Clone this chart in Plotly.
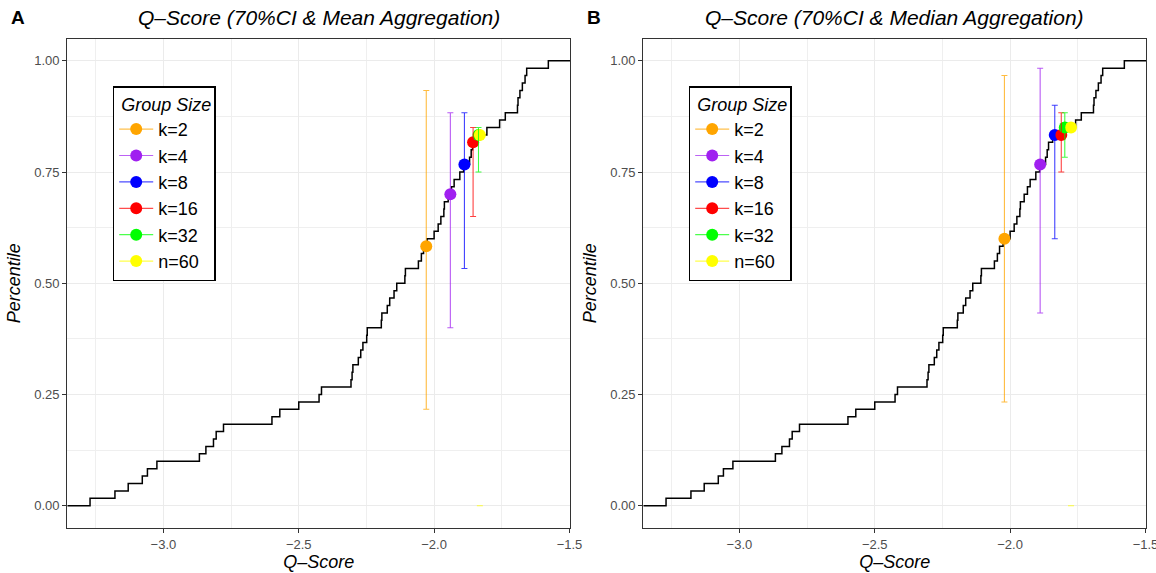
import plotly.graph_objects as go

# ---------------- data ----------------
q_scores = [-3.271, -3.179, -3.130, -3.078, -3.059, -3.024, -2.867, -2.843, -2.815, -2.805,
            -2.778, -2.599, -2.570, -2.500, -2.425, -2.416, -2.307, -2.303, -2.300, -2.280,
            -2.271, -2.263, -2.249, -2.247, -2.195, -2.193, -2.173, -2.164, -2.148, -2.138,
            -2.108, -2.106, -2.058, -2.047, -2.039, -2.026, -2.000, -1.985, -1.975, -1.964,
            -1.962, -1.948, -1.936, -1.926, -1.905, -1.891, -1.869, -1.863, -1.858, -1.843,
            -1.805, -1.758, -1.737, -1.692, -1.690, -1.683, -1.674, -1.664, -1.658, -1.578]

groups = ["k=2", "k=4", "k=8", "k=16", "k=32", "n=60"]
colors = ["#FFA500", "#A020F0", "#0000FF", "#FF0000", "#00FF00", "#FFFF00"]

mean_x = [-2.029, -1.940, -1.888, -1.856, -1.836, -1.831]
mean_y = [0.5833, 0.7000, 0.7667, 0.8167, 0.8333, 0.8333]
mean_lo = [0.2167, 0.4000, 0.5333, 0.6500, 0.7500, 0.0]
mean_hi = [0.9333, 0.8833, 0.8833, 0.8500, 0.8500, 0.0]

med_x = [-2.021, -1.889, -1.835, -1.811, -1.798, -1.775]
med_y = [0.6000, 0.7667, 0.8333, 0.8333, 0.8500, 0.8500]
med_lo = [0.2333, 0.4333, 0.6000, 0.7500, 0.7833, 0.0]
med_hi = [0.9667, 0.9833, 0.9000, 0.8833, 0.8833, 0.0]

x_ticks = [-3.0, -2.5, -2.0, -1.5]
y_ticks = [0.0, 0.25, 0.50, 0.75, 1.00]
X_RANGE = [-3.355, -1.498]
Y_RANGE = [-0.05, 1.05]

titles = ["Q–Score (70%CI & Mean Aggregation)", "Q–Score (70%CI & Median Aggregation)"]
tags = ["A", "B"]

# ---------------- helpers ----------------
W, H = 1156, 573
FONT = "Liberation Sans, Arial, sans-serif"


def rgba(hexc, a):
    h = hexc.lstrip("#")
    r, g, b = int(h[0:2], 16), int(h[2:4], 16), int(h[4:6], 16)
    return f"rgba({r},{g},{b},{a})"


n = len(q_scores)
ecdf_x = [X_RANGE[0]] + sorted(q_scores) + [X_RANGE[1]]
ecdf_y = [0.0] + [(i + 1) / n for i in range(n)] + [1.0]

fig = go.Figure()

panels = [
    dict(xa="x", ya="y", px=mean_x, py=mean_y, lo=mean_lo, hi=mean_hi, legend="legend"),
    dict(xa="x2", ya="y2", px=med_x, py=med_y, lo=med_lo, hi=med_hi, legend="legend2"),
]

for p in panels:
    fig.add_trace(go.Scatter(x=ecdf_x, y=ecdf_y, mode="lines", line=dict(color="black", width=1.5, shape="hv"),
                             xaxis=p["xa"], yaxis=p["ya"], showlegend=False, hoverinfo="skip"))
    for i, g in enumerate(groups):
        fig.add_trace(go.Scatter(
            x=[p["px"][i]], y=[p["py"][i]], mode="lines+markers", name=g,
            marker=dict(color=colors[i], size=12),
            line=dict(color=rgba(colors[i], 0.7), width=1.2),
            xaxis=p["xa"], yaxis=p["ya"], legend=p["legend"], showlegend=True))
    for i, g in enumerate(groups):
        fig.add_trace(go.Scatter(
            x=[p["px"][i]], y=[p["lo"][i]], mode="markers",
            marker=dict(size=1, color="rgba(0,0,0,0)"),
            error_y=dict(type="data", symmetric=False, array=[p["hi"][i] - p["lo"][i]], arrayminus=[0],
                         color=rgba(colors[i], 0.75), thickness=1.1, width=3),
            xaxis=p["xa"], yaxis=p["ya"], showlegend=False, hoverinfo="skip"))

ydom = [1 - 528 / H, 1 - 38.5 / H]
xdom1 = [67.3 / W, 570 / W]
xdom2 = [643.3 / W, 1146 / W]

axis_common = dict(
    showline=True, linecolor="#333333", linewidth=1.3, mirror=True,
    showgrid=True, gridcolor="#EBEBEB", gridwidth=1.1,
    ticks="outside", ticklen=4, tickwidth=1.1, tickcolor="#333333",
    tickfont=dict(family=FONT, size=13, color="#4D4D4D"),
    zeroline=False, automargin=False,
)

xaxis_cfg = dict(axis_common, range=X_RANGE, tickvals=x_ticks, tickformat=".1f", ticklabeloverflow="allow",
                 minor=dict(dtick=0.25, tick0=-3.25, showgrid=True, gridcolor="#EFEFEF", gridwidth=0.7, ticks=""),
                 title=dict(text="<i>Q–Score</i>", font=dict(family=FONT, size=18, color="black"), standoff=4))
yaxis_cfg = dict(axis_common, range=Y_RANGE, tickvals=y_ticks, tickformat=".2f",
                 minor=dict(dtick=0.125, tick0=0.125, showgrid=True, gridcolor="#EFEFEF", gridwidth=0.7, ticks=""),
                 title=dict(text="<i>Percentile</i>", font=dict(family=FONT, size=18, color="black"), standoff=8))

legend_common = dict(
    xref="paper", yref="paper", xanchor="left", yanchor="top",
    bgcolor="white", bordercolor="black", borderwidth=1.5,
    font=dict(family=FONT, size=18, color="black"),
    title=dict(text="<i> Group Size</i>", font=dict(family=FONT, size=18, color="black")),
    traceorder="normal", itemwidth=34,
)

fig.update_layout(
    width=W, height=H,
    margin=dict(l=0, r=0, t=0, b=0),
    paper_bgcolor="white", plot_bgcolor="white",
    xaxis=dict(xaxis_cfg, domain=xdom1, anchor="y"),
    yaxis=dict(yaxis_cfg, domain=ydom, anchor="x"),
    xaxis2=dict(xaxis_cfg, domain=xdom2, anchor="y2"),
    yaxis2=dict(yaxis_cfg, domain=ydom, anchor="x2"),
    legend=dict(legend_common, x=112.7 / W, y=1 - 86 / H),
    legend2=dict(legend_common, x=688.7 / W, y=1 - 86 / H),
    showlegend=True,
)

centers = [(xdom1[0] + xdom1[1]) / 2, (xdom2[0] + xdom2[1]) / 2]
tag_x = [18 / W, 594 / W]
for i in range(2):
    fig.add_annotation(text=f"<i>{titles[i]}</i>", x=centers[i], y=1 - 17 / H, xref="paper", yref="paper",
                       xanchor="center", yanchor="middle", showarrow=False,
                       font=dict(family=FONT, size=21, color="black"))
    fig.add_annotation(text=f"<b>{tags[i]}</b>", x=tag_x[i], y=1 - 17 / H, xref="paper", yref="paper",
                       xanchor="center", yanchor="middle", showarrow=False,
                       font=dict(family=FONT, size=19, color="black"))

fig.write_html("out.html")
